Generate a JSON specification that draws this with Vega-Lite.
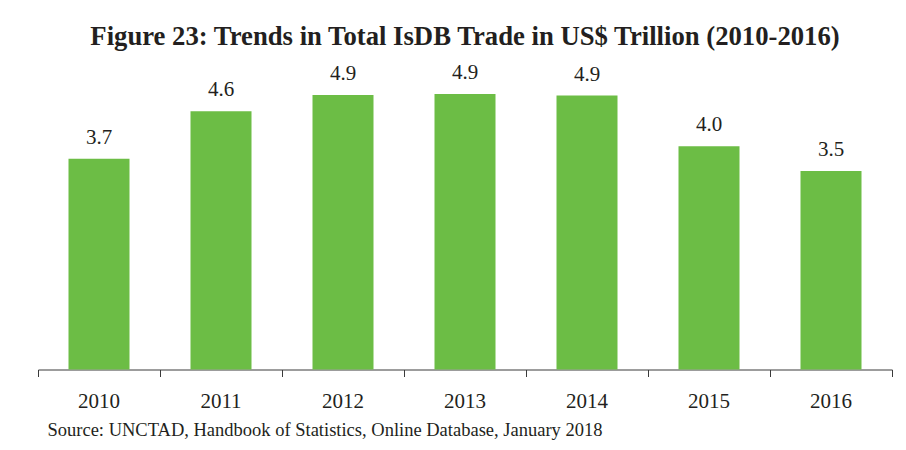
{
  "$schema": "https://vega.github.io/schema/vega-lite/v6.json",
  "autosize": "none",
  "width": 854,
  "height": 310,
  "padding": {"left": 38, "top": 59.5, "right": 14, "bottom": 80.5},
  "background": "white",
  "title": {
    "text": "Figure 23: Trends in Total IsDB Trade in US$ Trillion (2010-2016)",
    "font": "Liberation Serif",
    "fontSize": 26.7,
    "fontWeight": "bold",
    "color": "#231f20",
    "anchor": "middle",
    "offset": 9
  },
  "config": {
    "view": {"stroke": null},
    "font": "Liberation Serif"
  },
  "data": {
    "values": [
      {"year": "2010", "trade": 3.74},
      {"year": "2011", "trade": 4.58},
      {"year": "2012", "trade": 4.87},
      {"year": "2013", "trade": 4.89},
      {"year": "2014", "trade": 4.86},
      {"year": "2015", "trade": 3.96},
      {"year": "2016", "trade": 3.52}
    ]
  },
  "encoding": {
    "x": {
      "field": "year",
      "type": "nominal",
      "scale": {"paddingInner": 0, "paddingOuter": 0},
      "axis": {
        "bandPosition": 1,
        "tickExtra": true,
        "labelAngle": 0,
        "labelFont": "Liberation Serif",
        "labelFontSize": 21,
        "labelColor": "#231f20",
        "labelPadding": 14,
        "tickSize": 7,
        "tickColor": "#3a3a3a",
        "domainColor": "#3a3a3a",
        "title": "Source: UNCTAD, Handbook of Statistics, Online Database, January 2018",
        "titleFont": "Liberation Serif",
        "titleFontSize": 18.5,
        "titleFontWeight": "normal",
        "titleColor": "#231f20",
        "titleAnchor": "start",
        "titleAlign": "left",
        "titleX": 9,
        "titlePadding": 9
      }
    },
    "y": {
      "field": "trade",
      "type": "quantitative",
      "scale": {"domain": [0, 5.5], "nice": false},
      "axis": null
    }
  },
  "layer": [
    {
      "mark": {"type": "bar", "color": "#6cbd45", "width": {"band": 0.5}}
    },
    {
      "mark": {
        "type": "text",
        "baseline": "alphabetic",
        "dy": -15,
        "font": "Liberation Serif",
        "fontSize": 21,
        "color": "#231f20"
      },
      "encoding": {
        "text": {"field": "trade", "type": "quantitative", "format": ".1f"}
      }
    }
  ]
}
